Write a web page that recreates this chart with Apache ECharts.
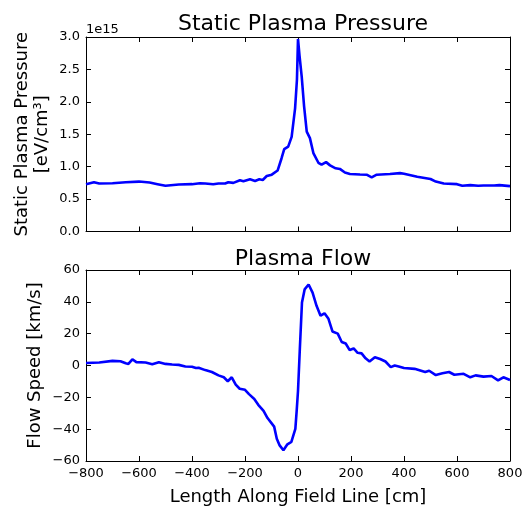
<!DOCTYPE html>
<html><head><meta charset="utf-8">
<script src="https://cdn.jsdelivr.net/npm/echarts@6/dist/echarts.min.js"></script>
<style>html,body{margin:0;padding:0;background:#fff}#c{width:526px;height:507px}</style>
</head><body><div id="c"></div>
<script>
const pressureX = [-800,-770,-750,-700,-650,-600,-560,-530,-500,-450,-400,-370,-350,-320,-300,-275,-263,-244,-219,-206,-181,-162,-146,-133,-118,-99,-77,-62,-52,-37,-24,-11,-4,0,6,14,23,33,45,58,77,89,106,121,142,158,177,196,234,259,278,297,347,385,400,450,500,520,550,600,620,650,680,700,740,760,800];
const pressureY = [0.73,0.76,0.74,0.745,0.76,0.77,0.755,0.73,0.705,0.725,0.73,0.745,0.74,0.728,0.74,0.74,0.76,0.75,0.79,0.775,0.805,0.78,0.805,0.795,0.856,0.877,0.94,1.13,1.27,1.31,1.46,1.90,2.34,2.97,2.7,2.39,1.93,1.54,1.44,1.21,1.06,1.03,1.07,1.02,0.975,0.965,0.91,0.887,0.88,0.876,0.836,0.876,0.886,0.90,0.89,0.845,0.81,0.77,0.74,0.73,0.705,0.715,0.705,0.71,0.71,0.715,0.70];
const flowX = [-800,-750,-700,-670,-650,-640,-625,-610,-575,-550,-525,-500,-475,-450,-425,-400,-385,-375,-350,-325,-300,-280,-265,-250,-235,-220,-200,-185,-165,-150,-130,-115,-90,-80,-70,-55,-40,-25,-10,-5,0,7,15,25,40,55,70,85,100,115,130,150,165,180,195,210,225,240,255,270,290,310,330,350,365,380,400,440,480,495,520,545,570,590,625,650,670,700,730,755,775,800];
const flowY = [1.6,1.9,2.9,2.7,1.4,1.0,3.9,2.1,1.9,0.8,2.1,1.0,0.6,0.4,-0.6,-0.8,-1.6,-1.4,-2.9,-4.1,-6.2,-7.4,-9.9,-7.4,-12,-14.6,-15.3,-18,-21,-24.7,-28.5,-33,-38.4,-46,-50,-53.2,-49.5,-48,-39.8,-28.5,-16,10.7,39.6,47.8,50.9,45.8,37.5,31.3,32.8,29.3,21.4,20,14.8,13.8,9.7,10.7,8.0,7.6,4.5,2.5,5.2,4.1,2.5,-1.0,0,-0.6,-1.6,-2.1,-4.1,-3.3,-6,-4.9,-4.1,-5.8,-5.2,-7.4,-6.2,-7,-6.6,-9.3,-7.4,-9.1];
const pressureScaleLabel = '1e15';
const titles = ['Static Plasma Pressure', 'Plasma Flow'];
const xName = 'Length Along Field Line [cm]';
const yNames = ['Static Plasma Pressure\n[eV/cm³]', 'Flow Speed [km/s]'];

const FONT = 'DejaVu Sans';
const minus = v => String(v).replace('-', '\u2212');
const chart = echarts.init(document.getElementById('c'), null, {renderer: 'canvas'});
const lab = {color: '#000', fontFamily: FONT, fontSize: 13};
function xa(gi, pos, labels, name) {
  return {type: 'value', gridIndex: gi, position: pos, min: -800, max: 800, interval: 200,
    axisLine: {show: true, onZero: false, lineStyle: {color: '#000', width: 1}},
    axisTick: {show: true, inside: true, length: 5, lineStyle: {color: '#000'}},
    axisLabel: {show: labels, ...lab, margin: 6, formatter: v => minus(v)},
    splitLine: {show: false},
    name: name || '', nameLocation: 'middle', nameGap: 27, nameMoveOverlap: false,
    nameTextStyle: {color: '#000', fontFamily: FONT, fontSize: 18}};
}
function ya(gi, pos, labels, min, max, itv, fmt, name, gap) {
  return {type: 'value', gridIndex: gi, position: pos, min: min, max: max, interval: itv,
    axisLine: {show: true, onZero: false, lineStyle: {color: '#000', width: 1}},
    axisTick: {show: true, inside: true, length: 5, lineStyle: {color: '#000'}},
    axisLabel: {show: labels, ...lab, margin: 6, formatter: fmt},
    splitLine: {show: false},
    name: name || '', nameLocation: 'middle', nameGap: gap || 0, nameRotate: 90, nameMoveOverlap: false,
    nameTextStyle: {color: '#000', fontFamily: FONT, fontSize: 18, lineHeight: 20}};
}
chart.setOption({
  animation: false,
  backgroundColor: '#fff',
  title: [
    {text: titles[0], left: 298, top: 8, textAlign: 'center', textStyle: {fontFamily: FONT, fontSize: 22, fontWeight: 'normal', color: '#000'}},
    {text: titles[1], left: 298, top: 243, textAlign: 'center', textStyle: {fontFamily: FONT, fontSize: 22, fontWeight: 'normal', color: '#000'}}
  ],
  graphic: [{type: 'text', left: 86, top: 23, style: {text: pressureScaleLabel, fontFamily: FONT, fontSize: 13, fill: '#000'}}],
  grid: [
    {left: 86, width: 424, top: 37, height: 194.5},
    {left: 86, width: 424, top: 270, height: 194}
  ],
  xAxis: [
    xa(0, 'bottom', false), xa(0, 'top', false),
    xa(1, 'bottom', true, xName), xa(1, 'top', false)
  ],
  yAxis: [
    ya(0, 'left', true, 0, 3.0, 0.5, v => v.toFixed(1), yNames[0], 34),
    ya(0, 'right', false, 0, 3.0, 0.5, v => v),
    ya(1, 'left', true, -60, 60, 20, v => minus(v), yNames[1], 41),
    ya(1, 'right', false, -60, 60, 20, v => v)
  ],
  series: [
    {type: 'line', xAxisIndex: 0, yAxisIndex: 0, data: pressureX.map((x, i) => [x, pressureY[i]]),
      showSymbol: false, lineStyle: {color: '#0000ff', width: 2.6}, itemStyle: {color: '#0000ff'}},
    {type: 'line', xAxisIndex: 2, yAxisIndex: 2, data: flowX.map((x, i) => [x, flowY[i]]),
      showSymbol: false, lineStyle: {color: '#0000ff', width: 2.6}, itemStyle: {color: '#0000ff'}}
  ]
});
</script></body></html>
